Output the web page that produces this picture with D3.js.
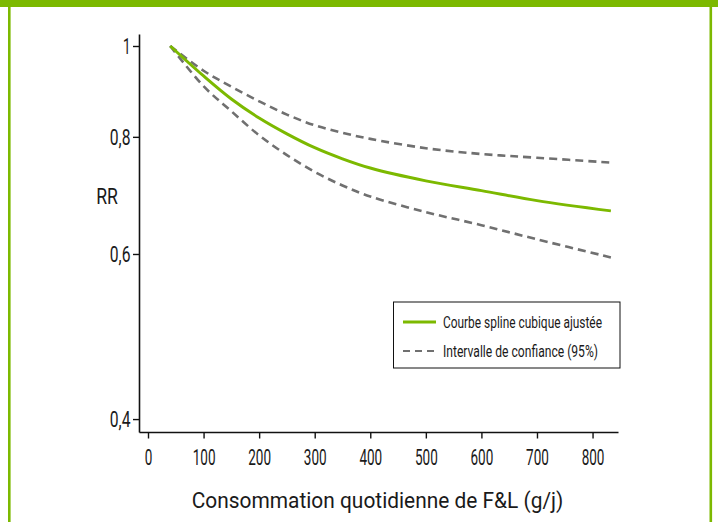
<!DOCTYPE html>
<html><head><meta charset="utf-8">
<script src="https://cdn.jsdelivr.net/npm/d3@7"></script>
<style>
html,body{margin:0;padding:0;background:#fff;}
svg{display:block;}
text{font-family:Roboto,"DejaVu Sans",sans-serif;fill:#1a1a1a;}
</style></head>
<body>
<svg id="chart" width="718" height="522"></svg>
<script>
// Data
const consumption = [40, 100, 150, 200, 250, 300, 350, 400, 500, 600, 700, 833];
const fittedRR   = [1.0, 0.929, 0.878, 0.838, 0.806, 0.779, 0.758, 0.741, 0.718, 0.701, 0.684, 0.667];
const upperCI    = [1.0, 0.941, 0.905, 0.873, 0.845, 0.823, 0.808, 0.796, 0.778, 0.767, 0.760, 0.751];
const lowerCI    = [1.0, 0.906, 0.852, 0.803, 0.765, 0.734, 0.710, 0.691, 0.665, 0.644, 0.622, 0.595];
const xTicks = [0, 100, 200, 300, 400, 500, 600, 700, 800];
const yTicks = [0.4, 0.6, 0.8, 1];
const legendLabels = ["Courbe spline cubique ajustée", "Intervalle de confiance (95%)"];
const xTitle = "Consommation quotidienne de F&L (g/j)";
const yTitle = "RR";

const GREEN = "#7cb900";
const GREY = "#707070";

const svg = d3.select("#chart");

// Frame
svg.append("rect").attr("x", 0).attr("y", 0).attr("width", 718).attr("height", 7).attr("fill", GREEN);
svg.append("rect").attr("x", 8).attr("y", 0).attr("width", 2.6).attr("height", 522).attr("fill", GREEN);
svg.append("rect").attr("x", 709.5).attr("y", 0).attr("width", 2.6).attr("height", 522).attr("fill", GREEN);

const x = d3.scaleLinear().domain([-16.2, 845.8]).range([139, 618]);
const y = d3.scaleLog().domain([0.3875, 1.0299]).range([432, 34]);

const fmt = d => String(d).replace(".", ",");
const labelLen = s => s.replace(/[^0-9]/g, "").length * 7.6 + (s.match(/,/g) || []).length * 5.5;

// Y axis
const gy = svg.append("g").attr("transform", "translate(139,0)")
  .call(d3.axisLeft(y).tickValues(yTicks).tickFormat(fmt).tickSize(6).tickSizeOuter(0));
gy.select(".domain").attr("stroke", "#111").attr("stroke-width", 1.6);
gy.selectAll(".tick line").attr("stroke", "#111").attr("stroke-width", 1.4);
gy.selectAll(".tick text")
  .attr("x", -8.5).attr("dy", "0.35em")
  .style("font-size", "22px").attr("fill", "#1a1a1a")
  .attr("textLength", d => labelLen(fmt(d))).attr("lengthAdjust", "spacingAndGlyphs");

// X axis
const gx = svg.append("g").attr("transform", "translate(0,432)")
  .call(d3.axisBottom(x).tickValues(xTicks).tickFormat(d => String(d)).tickSize(6.5).tickSizeOuter(0));
gx.select(".domain").attr("stroke", "#111").attr("stroke-width", 1.6);
gx.selectAll(".tick line").attr("stroke", "#111").attr("stroke-width", 1.4);
gx.selectAll(".tick text")
  .attr("y", 33).attr("dy", null)
  .style("font-size", "22px").attr("fill", "#1a1a1a")
  .attr("textLength", d => labelLen(String(d))).attr("lengthAdjust", "spacingAndGlyphs");

// Titles
svg.append("text").attr("x", 107).attr("y", 204).attr("text-anchor", "middle")
  .style("font-size", "22px").attr("textLength", 21.7).attr("lengthAdjust", "spacingAndGlyphs")
  .text(yTitle);
svg.append("text").attr("x", 191.7).attr("y", 507.7)
  .style("font-size", "22px").attr("textLength", 371.6).attr("lengthAdjust", "spacingAndGlyphs")
  .text(xTitle);

// Lines
const mk = vals => d3.line().x((d, i) => x(consumption[i])).y(d => y(d)).curve(d3.curveCatmullRom.alpha(0.5))(vals);

svg.append("path").attr("d", mk(upperCI)).attr("fill", "none")
  .attr("stroke", GREY).attr("stroke-width", 2.6).attr("stroke-dasharray", "8,5");
svg.append("path").attr("d", mk(lowerCI)).attr("fill", "none")
  .attr("stroke", GREY).attr("stroke-width", 2.6).attr("stroke-dasharray", "8,5");
svg.append("path").attr("d", mk(fittedRR)).attr("fill", "none")
  .attr("stroke", GREEN).attr("stroke-width", 3);

// Legend
const lg = svg.append("g");
lg.append("rect").attr("x", 393.5).attr("y", 302).attr("width", 226.5).attr("height", 66)
  .attr("fill", "#fff").attr("stroke", "#111").attr("stroke-width", 1);
lg.append("line").attr("x1", 403).attr("x2", 436).attr("y1", 322).attr("y2", 322)
  .attr("stroke", GREEN).attr("stroke-width", 3);
lg.append("line").attr("x1", 403).attr("x2", 436).attr("y1", 351).attr("y2", 351)
  .attr("stroke", GREY).attr("stroke-width", 2).attr("stroke-dasharray", "7,5");
const legendW = [159, 155];
legendLabels.forEach((t, i) => {
  lg.append("text").attr("x", 443).attr("y", 327.5 + i * 29.3)
    .style("font-size", "17px").attr("textLength", legendW[i]).attr("lengthAdjust", "spacingAndGlyphs")
    .text(t);
});
</script>
</body></html>
